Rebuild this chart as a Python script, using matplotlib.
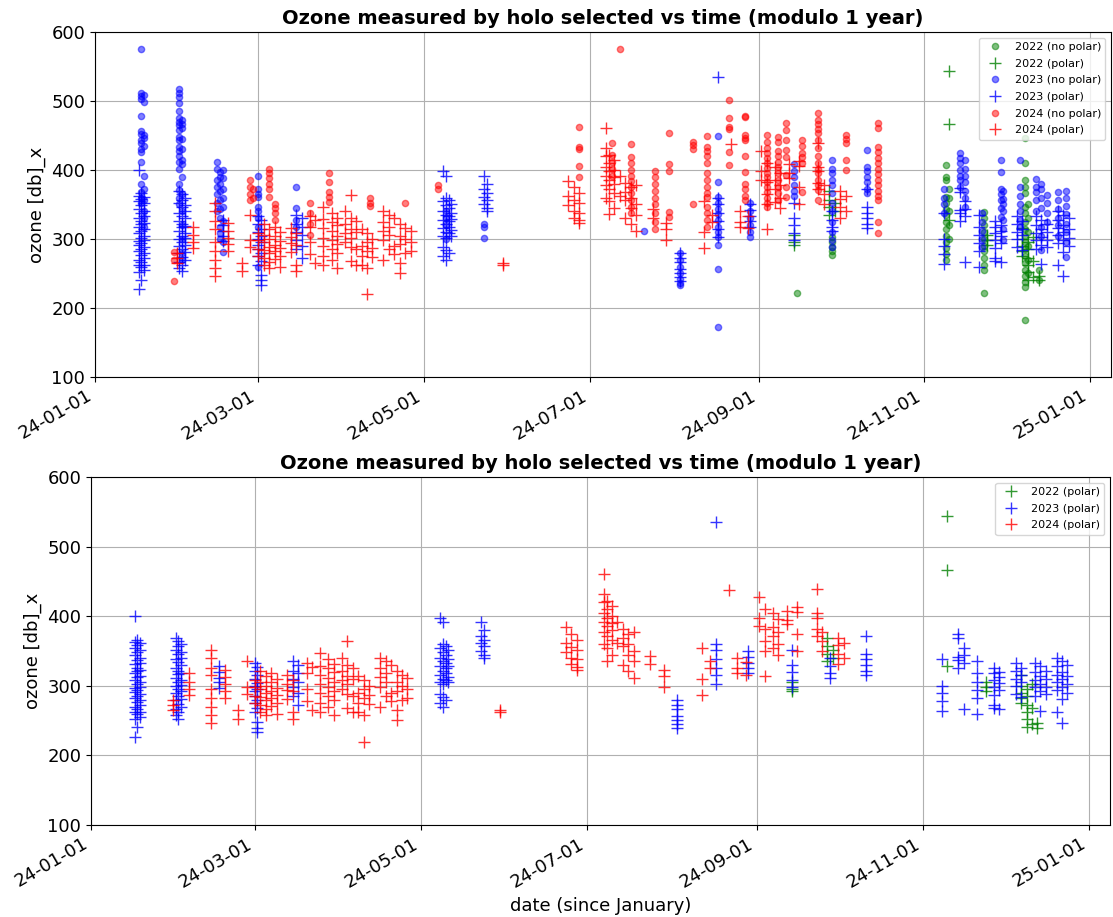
import numpy as np
import matplotlib
matplotlib.use("Agg")
import matplotlib.pyplot as plt
import matplotlib.dates as mdates

# day of year (0 = 2024-01-01) of each observation night, and ozone values that night
days_22_nopol = [258, 271, 313, 314, 327, 342, 343, 347]
oz_22_nopol = [[221], [303, 295, 288, 283, 277],
               [407, 390, 385, 361, 352, 343, 335, 325, 315, 305, 296, 287, 278, 269],
               [372, 360, 340, 320, 300],
               [339, 330, 320, 310, 300, 290, 282, 272, 263, 255, 221],
               [446, 410, 385, 376, 366, 347, 338, 325, 315, 305, 295, 285, 275, 265, 255, 246, 238, 231, 182],
               [350, 330, 310, 290, 270, 250], [255, 241]]

days_22_pol = [257, 270, 272, 314, 328, 341, 343, 345, 347]
oz_22_pol = [[306, 296, 292], [369, 357, 346, 335], [352, 340], [544, 467, 328],
             [306, 298, 292], [316, 300, 290, 282, 275], [295, 285, 272, 262, 252, 241],
             [303, 268, 245], [246, 240]]

days_23_nopol = [17, 18, 31, 32, 45, 46, 47, 60, 74, 129, 143, 202, 215, 229, 241, 257, 271,
                 284, 312, 318, 320, 326, 333, 334, 340, 346, 348, 350, 354, 357]
oz_23_nopol = [[575, 511, 507, 503, 478, 457, 452, 443, 439, 430, 426, 412, 380, 368, 360, 352],
               [509, 499, 450, 447, 435, 392, 372, 356, 340, 330, 318],
               [518, 511, 506, 497, 485, 475, 470, 465, 458, 448, 443, 434, 428, 420, 412, 402, 380, 371, 360, 350],
               [472, 466, 461, 445, 430, 415, 408, 390, 365, 340, 320, 300, 280, 269],
               [412, 402, 385, 375, 365, 352, 340],
               [397, 390, 380, 370, 356, 344, 330, 318, 308, 300],
               [400, 388, 372, 360, 346, 326, 296, 281],
               [392, 373, 365, 361, 347, 340, 330, 318, 260],
               [375, 345, 327, 318], [340, 330, 320, 300], [322, 318, 302], [311],
               [279, 270, 260, 250, 242, 236, 233],
               [449, 383, 361, 352, 344, 336, 328, 318, 310, 303, 292, 256, 173],
               [352, 340, 330, 320, 310, 303],
               [409, 399, 390, 378, 370, 363],
               [414, 402, 395, 385, 378, 366, 352, 340, 325, 310, 298, 289],
               [429, 405, 398, 390, 382, 372, 366],
               [372, 360, 350, 337],
               [424, 417, 410, 400, 392, 385, 376],
               [414, 402, 392, 383, 370, 360, 347],
               [337, 325, 312, 300, 289],
               [414, 397, 373, 365, 356, 345, 332],
               [370, 358, 350, 340, 328, 314, 298],
               [415, 376, 362, 350, 340, 328, 318],
               [387, 375, 368, 356, 340],
               [380, 372, 360, 345, 318, 305, 284],
               [364, 352, 338, 325],
               [368, 356, 344, 330, 320, 305],
               [370, 360, 348, 336, 322, 310, 295, 274]]

days_23_pol = [16, 17, 18, 31, 32, 33, 47, 60, 61, 74, 76, 128, 129, 130, 131, 143, 144, 215,
               229, 241, 257, 271, 284, 312, 318, 320, 325, 331, 333, 339, 341, 346, 348, 350,
               354, 356, 358]
oz_23_pol = [[400, 363, 355, 344, 331, 318, 309, 297, 291, 283, 270, 262, 252, 227],
             [366, 358, 349, 337, 326, 321, 312, 302, 294, 286, 277, 266, 259, 241],
             [361, 352, 340, 333, 323, 314, 305, 299, 288, 280, 273, 263, 255],
             [369, 352, 338, 326, 311, 300, 290, 279, 266, 258],
             [365, 357, 346, 334, 322, 317, 305, 296, 285, 274, 262, 253],
             [360, 349, 340, 330, 319, 309, 301, 292, 281, 270],
             [328, 320, 311, 305, 297],
             [333, 322, 310, 300, 292, 286, 276, 262],
             [327, 315, 304, 296, 280, 268, 248, 240, 234],
             [335, 322, 310, 298, 285], [330, 318, 306, 290, 272],
             [398, 355, 340, 328, 316, 305, 288, 276],
             [392, 360, 349, 335, 322, 310, 302, 284, 270],
             [357, 345, 333, 326, 318, 308, 280],
             [351, 338, 329, 313, 305],
             [391, 372, 361, 350], [380, 366, 357, 345, 340],
             [280, 272, 266, 257, 251, 245, 239],
             [535, 360, 351, 338, 326, 315, 303],
             [350, 342, 333, 326, 318],
             [352, 330, 320, 309, 298],
             [340, 328, 318, 311],
             [372, 346, 338, 330, 322, 316],
             [338, 300, 290, 278, 264],
             [374, 368, 342, 337, 326],
             [355, 344, 333, 266],
             [335, 318, 306, 294, 282, 259],
             [326, 318, 309, 298, 287, 273, 268],
             [320, 312, 304, 294, 266],
             [333, 322, 310, 300, 288],
             [326, 315, 306, 284],
             [333, 320, 309, 298, 286],
             [328, 314, 303, 292, 264],
             [322, 310, 299, 288],
             [340, 328, 316, 306, 294, 262],
             [335, 320, 310, 298, 281, 246],
             [330, 314, 302, 290]]

days_24_nopol = [29, 57, 58, 64, 66, 79, 86, 101, 114, 126, 178, 190, 193, 197, 206, 211, 220,
                 225, 233, 239, 247, 251, 254, 260, 266, 276, 288]
oz_24_nopol = [[281, 269, 239], [385, 375, 365, 356], [372, 360],
               [402, 395, 388, 380, 372, 361], [351, 345, 337, 327],
               [352, 337, 322, 306], [396, 382, 368, 361, 354], [360, 352, 348], [352],
               [378, 372], [463, 433, 431, 406, 390], [439, 422, 412, 402, 391], [576],
               [437, 419, 410, 400, 392, 384, 375, 366, 356, 347, 337],
               [398, 390, 380, 370, 360, 350, 338, 325, 315],
               [454, 409, 399, 339, 332], [441, 436, 430, 351],
               [449, 434, 428, 420, 410, 395, 385, 375, 366, 361, 347, 338, 328, 318],
               [501, 475, 463, 459, 426, 407],
               [478, 477, 451, 447, 443, 420, 397, 380, 372, 363, 356],
               [451, 440, 432, 425, 418, 410, 403, 396, 390, 382, 375, 368, 360, 352, 347],
               [448, 440, 428, 420, 412, 404, 395, 386, 376, 366, 356],
               [468, 458, 443, 429, 419, 393, 376, 361],
               [443, 435, 424, 419, 410, 368],
               [482, 472, 466, 460, 453, 443, 432, 420, 410, 402, 395, 385, 378, 371, 356],
               [451, 445, 439, 415, 400],
               [468, 461, 434, 426, 418, 410, 402, 394, 386, 378, 370, 362, 356, 325, 308]]

days_24_pol = [30, 36, 44, 49, 54, 57, 60, 62, 64, 66, 68, 72, 74, 79, 81, 84, 87, 89, 92, 94,
               96, 98, 100, 102, 106, 108, 110, 112, 114, 116, 150, 174, 176, 178, 188, 189,
               191, 193, 195, 197, 199, 205, 210, 224, 227, 234, 237, 240, 245, 247, 250, 252,
               255, 259, 266, 268, 274, 276]
oz_24_pol = [[280, 272, 265], [318, 306, 296, 287],
             [352, 340, 326, 315, 296, 282, 270, 258, 246],
             [323, 312, 302, 293, 282], [265, 253], [335, 299, 288],
             [308, 298, 286, 276], [321, 306, 295, 284, 272, 262],
             [314, 300, 289, 279, 266, 258], [318, 305, 292, 283, 271],
             [310, 297, 287, 276, 260], [316, 303, 294, 281], [308, 292, 262, 253],
             [333, 318, 295, 278], [327, 265], [347, 329, 316, 302, 290, 275, 262],
             [338, 325, 311, 298, 285, 270], [331, 320, 305, 293, 280, 258],
             [340, 322, 308, 295], [364, 330, 314, 302, 288, 268], [326, 310, 285, 263],
             [314, 290, 276, 262], [308, 296, 283, 258, 220], [300, 287, 274],
             [340, 325, 312, 298, 270], [335, 318, 306, 285], [330, 290, 278],
             [321, 305, 293, 265, 251], [316, 300, 280], [311, 296, 283],
             [265, 262], [384, 362, 349], [375, 356, 340, 331], [366, 352, 338, 327, 323],
             [461, 432, 420, 405, 392, 378, 360], [422, 410, 398, 386, 372, 355, 336],
             [415, 400, 390, 380, 366, 345], [392, 362], [381, 368, 357, 330],
             [375, 360, 345, 322], [378, 350, 335, 311], [343, 331], [323, 314, 299],
             [355, 310, 287], [335, 325], [438], [340, 325, 318], [334, 316],
             [427, 398, 386], [410, 382, 365, 350, 314], [405, 385, 372, 354],
             [396, 378, 360, 345], [408, 395, 389], [413, 406, 375, 350],
             [439, 405, 398, 381, 372], [378, 365, 350], [369, 358, 346, 331], [362, 340]]

start = np.datetime64('2024-01-01')


def expand(days, vals):
    x, y = [], []
    for d, vs in zip(days, vals):
        for v in vs:
            x.append(start + np.timedelta64(int(d * 24), 'h'))
            y.append(v)
    return np.array(x), np.array(y)


def style(ax):
    ax.set_title("Ozone measured by holo selected vs time (modulo 1 year)",
                 fontsize=14, fontweight='bold')
    ax.set_ylabel("ozone [db]_x", fontsize=13)
    ax.set_ylim(100, 600)
    ax.set_xlim(start, start + np.timedelta64(int(373.6 * 24), 'h'))
    ax.xaxis.set_major_locator(mdates.MonthLocator(bymonth=[1, 3, 5, 7, 9, 11]))
    ax.xaxis.set_major_formatter(mdates.DateFormatter('%y-%m-%d'))
    ax.tick_params(labelsize=13)
    plt.setp(ax.get_xticklabels(), rotation=30, ha='right')
    ax.grid(True)
    ax.legend(loc='upper right', fontsize=8, labelspacing=0.6)


fig = plt.figure(figsize=(11.13, 9.17), dpi=100)
ax1 = fig.add_axes([0.0854, 0.5889, 0.9128, 0.3762])
ax2 = fig.add_axes([0.0818, 0.1003, 0.9155, 0.3795])

series = [
    ("2022", days_22_nopol, oz_22_nopol, days_22_pol, oz_22_pol, 'green'),
    ("2023", days_23_nopol, oz_23_nopol, days_23_pol, oz_23_pol, 'blue'),
    ("2024", days_24_nopol, oz_24_nopol, days_24_pol, oz_24_pol, 'red'),
]

for year, dn, vn, dp, vp, col in series:
    x, y = expand(dn, vn)
    ax1.plot(x, y, 'o', color=col, alpha=0.5, ms=4.5, label=f"{year} (no polar)")
    x, y = expand(dp, vp)
    ax1.plot(x, y, '+', color=col, alpha=0.8, ms=8, label=f"{year} (polar)")
    ax2.plot(x, y, '+', color=col, alpha=0.8, ms=8, label=f"{year} (polar)")

style(ax1)
style(ax2)
ax2.set_xlabel("date (since January)", fontsize=13)

fig.savefig("out.png", dpi=100)
